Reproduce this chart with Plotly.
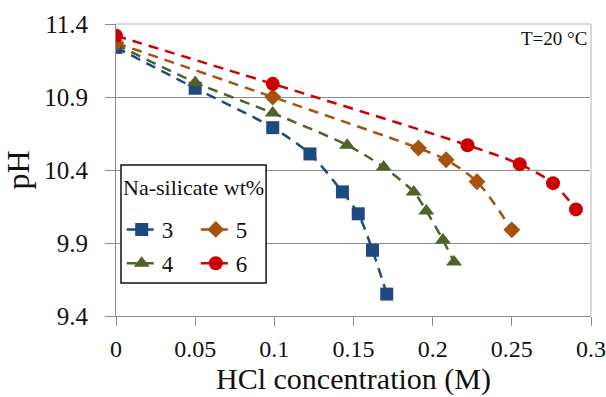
import plotly.graph_objects as go

# Data
x3 = [0, 0.05, 0.099, 0.1225, 0.143, 0.153, 0.162, 0.171]
y3 = [11.24, 10.96, 10.69, 10.51, 10.25, 10.10, 9.85, 9.55]
x4 = [0, 0.05, 0.099, 0.146, 0.169, 0.188, 0.196, 0.2065, 0.2135]
y4 = [11.26, 11.00, 10.79, 10.57, 10.42, 10.25, 10.12, 9.92, 9.77]
x5 = [0, 0.099, 0.191, 0.2085, 0.228, 0.250]
y5 = [11.27, 10.90, 10.55, 10.47, 10.32, 9.99]
x6 = [0, 0.099, 0.222, 0.255, 0.276, 0.2905]
y6 = [11.32, 10.99, 10.57, 10.44, 10.31, 10.13]

names = ["3", "4", "5", "6"]
colors = ["#1F4A80", "#4F6228", "#A5520F", "#CC0000"]
symbols = ["square", "triangle-up", "diamond", "circle"]
sizes = [13, 14, 13, 14]
legends = ["legend", "legend", "legend2", "legend2"]

xticks = [0, 0.05, 0.1, 0.15, 0.2, 0.25, 0.3]
xticklabels = ["0", "0.05", "0.1", "0.15", "0.2", "0.25", "0.3"]
yticks = [9.4, 9.9, 10.4, 10.9, 11.4]
yticklabels = ["9.4", "9.9", "10.4", "10.9", "11.4"]

FONT = "Liberation Serif"

fig = go.Figure()
for xs, ys, n, c, s, sz, lg in zip([x3, x4, x5, x6], [y3, y4, y5, y6],
                                   names, colors, symbols, sizes, legends):
    fig.add_trace(go.Scatter(
        x=xs, y=ys, name=n, mode="lines+markers",
        line=dict(color=c, width=2.5, dash="10px,7px", shape="spline", smoothing=0.8),
        marker=dict(symbol=s, size=sz, color=c),
        legend=lg, legendgroup=n,
    ))

fig.update_layout(
    width=606, height=397,
    margin=dict(l=116, r=15, t=24, b=81),
    paper_bgcolor="white", plot_bgcolor="white",
    font=dict(family=FONT, color="#111111", size=24),
    showlegend=True,
    legend=dict(x=0.012, y=0.37, xanchor="left", yanchor="top",
                bgcolor="rgba(0,0,0,0)", borderwidth=0,
                font=dict(family=FONT, size=23, color="#111111"),
                itemwidth=30, tracegroupgap=1),
    legend2=dict(x=0.168, y=0.37, xanchor="left", yanchor="top",
                 bgcolor="rgba(0,0,0,0)", borderwidth=0,
                 font=dict(family=FONT, size=23, color="#111111"),
                 itemwidth=30, tracegroupgap=1),
    xaxis=dict(range=[0, 0.3], tickvals=xticks, ticktext=xticklabels,
               showgrid=False, zeroline=False, automargin=False,
               showline=True, linecolor="#8c8c8c", linewidth=1,
               ticks="outside", ticklen=9, tickcolor="#8c8c8c",
               ticklabelstandoff=2, ticklabeloverflow="allow",
               tickfont=dict(family=FONT, size=24, color="#111111"),
               title=dict(text="HCl concentration (M)", standoff=7,
                          font=dict(family=FONT, size=30, color="#111111"))),
    yaxis=dict(range=[9.4, 11.4], tickvals=yticks, ticktext=yticklabels,
               showgrid=True, gridcolor="#8c8c8c", gridwidth=1,
               zeroline=False, automargin=False,
               showline=True, linecolor="#8c8c8c", linewidth=1,
               ticks="outside", ticklen=10, tickcolor="#8c8c8c",
               ticklabelstandoff=12,
               tickfont=dict(family=FONT, size=25, color="#111111"),
               title=dict(text="pH", standoff=10,
                          font=dict(family=FONT, size=32, color="#111111"))),
)

# Light frame on top and right
fig.add_shape(type="line", xref="paper", yref="paper", x0=0, x1=1, y0=1, y1=1,
              line=dict(color="#d9d9d9", width=2))
fig.add_shape(type="line", xref="paper", yref="paper", x0=1, x1=1, y0=0, y1=1,
              line=dict(color="#d9d9d9", width=2))

# Legend box
fig.add_shape(type="rect", xref="paper", yref="paper",
              x0=0.0105, x1=0.316, y0=0.113, y1=0.517,
              line=dict(color="#111111", width=1.5), fillcolor="white", layer="above")

fig.add_annotation(text="Na-silicate wt%", xref="paper", yref="paper",
                   x=0.163, y=0.44, xanchor="center", yanchor="middle",
                   showarrow=False, font=dict(family=FONT, size=22, color="#111111"))

fig.add_annotation(text="T=20 °C", xref="paper", yref="paper",
                   x=0.995, y=0.95, xanchor="right", yanchor="middle",
                   showarrow=False, font=dict(family=FONT, size=19, color="#111111"))

fig.write_html("out.html")
